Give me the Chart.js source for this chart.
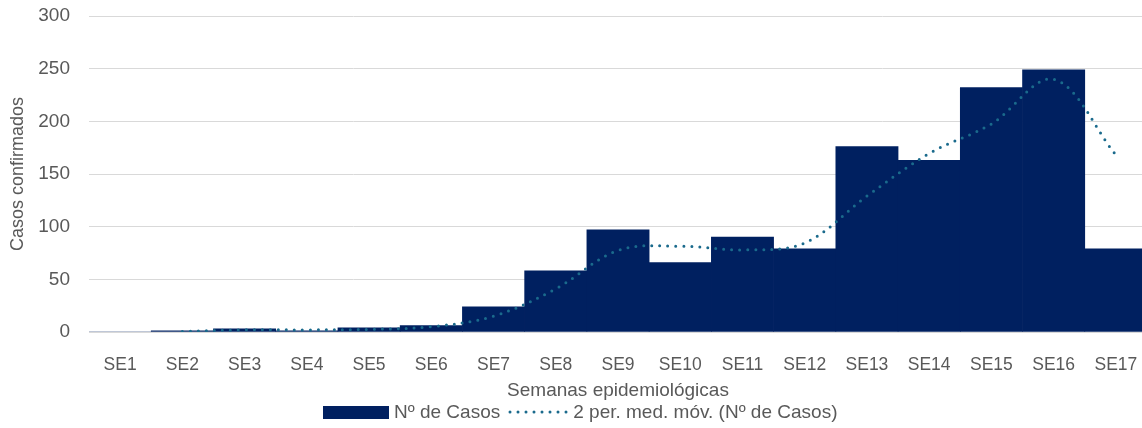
<!DOCTYPE html>
<html>
<head>
<meta charset="utf-8">
<script src="https://cdn.jsdelivr.net/npm/chart.js@4"></script>
<style>
  html, body { margin: 0; padding: 0; background: #fff; overflow: hidden; }
  #wrap { position: relative; width: 1142px; height: 428px; overflow: hidden; }
  #legend {
    position: absolute; left: 323px; top: 400px; height: 24px;
    display: flex; align-items: center;
    font-family: "Liberation Sans", Arial, sans-serif; font-size: 19px; color: #595959;
  }
  .swatch-bar { width: 66px; height: 13px; background: #002060; margin-right: 5px; }
  .swatch-line { margin: 0 4px 0 7px; }
</style>
</head>
<body>
<div id="wrap">
  <!-- the plot runs a few pixels past the right edge, as in the original -->
  <canvas id="chart" width="1147" height="428"></canvas>
  <div id="legend">
    <div class="swatch-bar"></div><span>Nº de Casos</span>
    <svg class="swatch-line" width="62" height="6"><line x1="3" y1="3" x2="60" y2="3" stroke="#1a6a8c" stroke-width="3" stroke-linecap="round" stroke-dasharray="0 8"/></svg>
    <span>2 per. med. móv. (Nº de Casos)</span>
  </div>
</div>
<script>
const weeks = ['SE1', 'SE2', 'SE3', 'SE4', 'SE5', 'SE6', 'SE7', 'SE8', 'SE9',
               'SE10', 'SE11', 'SE12', 'SE13', 'SE14', 'SE15', 'SE16', 'SE17'];
const cases = [0, 1, 3, 1, 4, 6, 24, 58, 97, 66, 90, 79, 176, 163, 232, 249, 79];
// values
const movingAvg = [null, 0.5, 2, 2, 2.5, 5, 15, 41, 77.5, 81.5, 78, 84.5, 129, 169.5, 197.5, 240, 168];

const textColor = '#595959';
const gridColor = '#d9d9d9';
const fontFamily = '"Liberation Sans", Arial, sans-serif';

const ctx = document.getElementById('chart').getContext('2d');
new Chart(ctx, {
    type: 'bar',
    data: {
        labels: weeks,
        datasets: [
            {
                type: 'line',
                label: '2 per. med. móv. (Nº de Casos)',
                data: movingAvg,
                borderColor: '#1a6a8c',
                borderWidth: 3,
                borderDash: [0, 8],
                borderCapStyle: 'round',
                pointRadius: 0,
                tension: 0.35,
                fill: false,
                order: 0
            },
            {
                label: 'Nº de Casos',
                data: cases,
                backgroundColor: '#002060',
                borderWidth: 0,
                barPercentage: 1,
                categoryPercentage: 1,
                order: 1
            }
        ]
    },
    options: {
        responsive: false,
        animation: false,
        layout: { padding: { top: 16, right: 0, bottom: 26, left: 0 } },
        plugins: {
            legend: { display: false },
            tooltip: { enabled: false }
        },
        scales: {
            x: {
                grid: { display: false },
                border: { color: gridColor },
                ticks: {
                    color: textColor,
                    font: { family: fontFamily, size: 17.5 },
                    padding: 15,
                    maxRotation: 0
                },
                title: {
                    display: true,
                    text: 'Semanas epidemiológicas',
                    color: textColor,
                    font: { family: fontFamily, size: 19 },
                    padding: { top: 2, bottom: 0 }
                },
                afterFit: scale => {
                    scale.height = 70;
                    scale.paddingLeft = 0;
                    scale.paddingRight = 0;
                }
            },
            y: {
                min: 0,
                max: 300,
                ticks: {
                    stepSize: 50,
                    color: textColor,
                    font: { family: fontFamily, size: 19 },
                    padding: 19
                },
                grid: { color: gridColor, drawTicks: false },
                border: { display: false },
                title: {
                    display: true,
                    text: 'Casos confirmados',
                    color: textColor,
                    font: { family: fontFamily, size: 18 },
                    padding: { top: 7, bottom: 0 }
                },
                afterFit: scale => {
                    scale.width = 89;
                    scale.paddingTop = 0;
                    scale.paddingBottom = 0;
                }
            }
        }
    }
});
</script>
</body>
</html>
